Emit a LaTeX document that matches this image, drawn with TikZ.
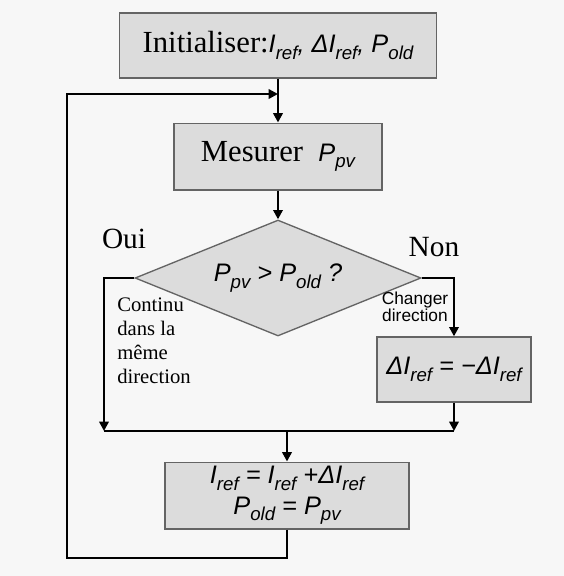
\documentclass[tikz,border=0pt]{standalone}
\usepackage{fontspec}
\setmainfont{Liberation Serif}
\setsansfont{Liberation Sans}
\usetikzlibrary{positioning,shapes.geometric,arrows.meta}
\definecolor{boxgray}{RGB}{220,220,220}
\definecolor{edgegray}{RGB}{100,100,100}
\definecolor{paper}{RGB}{247,247,247}
\newcommand{\pvar}[2]{#1\raisebox{-.5ex}{\fontsize{14}{14}\selectfont #2}}
\begin{document}
\begin{tikzpicture}[x=0.75pt,y=-0.75pt,
box/.style={draw=edgegray,line width=1pt,fill=boxgray,rectangle,inner sep=0pt},
test/.style={draw=edgegray,line width=1pt,fill=boxgray,diamond,aspect=2.46,inner sep=0pt,
    minimum width=214.5pt,minimum height=87pt},
mth/.style={font=\sffamily\itshape\fontsize{19}{23}\selectfont},
word/.style={font=\fontsize{22}{26}\selectfont,inner sep=0pt},
flow/.style={line width=2.1pt,-{Triangle[length=7pt,width=7pt]}},
link/.style={line width=2.1pt}]
\fill[paper] (0,0) rectangle (564,576);
\useasboundingbox (0,0) rectangle (564,576);

\node (init) [box,minimum width=237.75pt,minimum height=48.75pt] at (278,45.5)
    {\fontsize{23}{27}\selectfont Initialiser:{\sffamily\itshape\fontsize{19}{23}\selectfont
     \pvar{I}{ref}, \pvar{ΔI}{ref}, \pvar{P}{old}}};
\node (meas) [box,minimum width=156pt,minimum height=50pt] at (278,156.5)
    {\fontsize{23}{27}\selectfont Mesurer\ \ {\sffamily\itshape\fontsize{19}{23}\selectfont \pvar{P}{pv}}};
\node (dec) [test,mth] at (278,278) {\pvar{P}{pv} > \pvar{P}{old} ?};
\node (flip) [box,mth,minimum width=115.5pt,minimum height=48.75pt] at (454,369.5)
    {\pvar{ΔI}{ref} = −\pvar{ΔI}{ref}};
\node (upd) [box,mth,align=center,minimum width=183pt,minimum height=50pt] at (287,495.5)
    {\pvar{I}{ref} = \pvar{I}{ref} +\pvar{ΔI}{ref} \\ \pvar{P}{old} = \pvar{P}{pv}};

\node (oui) [word] at (124,239) {Oui};
\node (non) [word] at (434,247) {Non};
\node (same) [anchor=north west,align=left,inner sep=0pt,
    font=\fontsize{15.5}{18}\selectfont] at (117,298) {Continu \\ dans la \\ même \\ direction};
\node (turn) [align=center,inner sep=0pt,
    font=\sffamily\fontsize{13}{13}\selectfont] at (415,307) {Changer \\ direction};

\coordinate (join) at (278,94);
\coordinate (corner) at (67,558);
\coordinate (mleft) at (104,431);
\coordinate (mright) at (flip.south |- mleft);

\draw[flow] (init.south) -- (meas.north);
\draw[flow] (meas.south) -- (dec.north);
\draw[flow] (dec.west) -| (mleft);
\draw[flow] (dec.east) -| (flip.north);
\draw[flow] (flip.south) -- (mright);
\draw[link] (mleft) -- (mright);
\draw[flow] (upd.north |- mleft) -- (upd.north);
\draw[flow] (upd.south) |- (corner) |- (join);
\end{tikzpicture}
\end{document}
